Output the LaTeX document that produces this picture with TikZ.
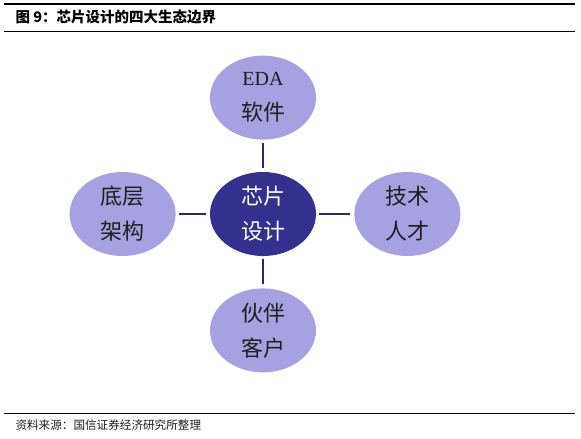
\documentclass[tikz,border=0pt]{standalone}
\usepackage{fontspec}
\setmainfont{Liberation Serif}
\newfontfamily\cjk{Noto Sans CJK SC}
\usepackage{tikz}
\usetikzlibrary{shapes.geometric,positioning}
\usepackage{xcolor}
\definecolor{myblue}{RGB}{52,48,142}
\definecolor{mylavender}{RGB}{166,162,226}
\definecolor{myline}{RGB}{40,40,116}
\definecolor{mytext}{RGB}{30,30,30}
\tikzset{
  eco/.style={ellipse,fill=mylavender,align=center,inner sep=0pt,
    minimum width=106pt,minimum height=84pt,text=mytext,
    font=\fontsize{22}{35}\selectfont\cjk},
  corenode/.style={eco,fill=myblue,text=white},
  link/.style={line width=2.8pt,color=myline,shorten >=4pt,shorten <=3pt},
  rule/.style={line width=1pt,color=black},
}
\begin{document}
\begin{tikzpicture}[x=1pt,y=-1pt]
  \useasboundingbox (0,0) rectangle (581,439);
  % header and footer
  \coordinate (h1l) at (4,4);   \coordinate (h1r) at (575,4);
  \coordinate (h2l) at (4,31);  \coordinate (h2r) at (575,31);
  \coordinate (f1l) at (4,413); \coordinate (f1r) at (575,413);
  \draw[rule,line width=1.3pt] (h1l) -- (h1r);
  \draw[rule,line width=0.8pt] (h2l) -- (h2r);
  \draw[rule,line width=0.8pt] (f1l) -- (f1r);
  \node[anchor=west,font=\fontsize{14.5}{14.5}\selectfont\cjk\bfseries] (title) at (12,17) {图 9：芯片设计的四大生态边界};
  \node[anchor=west,font=\fontsize{11.6}{11.6}\selectfont\cjk,text=mytext] (source) at (12,425) {资料来源：国信证券经济研究所整理};
  % ellipses
  \node[corenode] (core) at (263,214) {芯片\\设计};
  \node[eco,above=32pt of core] (eda) {{\rmfamily\fontsize{20}{35}\selectfont EDA}\\软件};
  \node[eco,below=32pt of core] (partner) {伙伴\\客户};
  \node[eco,left=34pt of core] (base) {底层\\架构};
  \node[eco,right=38pt of core] (talent) {技术\\人才};
  \draw[link] (eda) -- (core);
  \draw[link] (core) -- (partner);
  \draw[link] (base) -- (core);
  \draw[link] (core) -- (talent);
\end{tikzpicture}
\end{document}
